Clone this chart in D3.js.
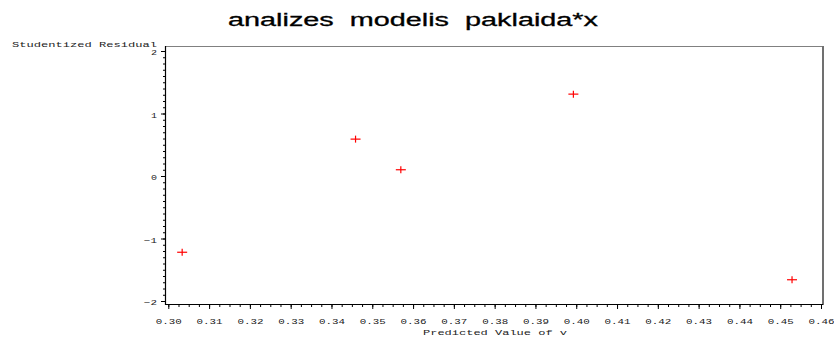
<!DOCTYPE html>
<html>
<head>
<meta charset="utf-8">
<script src="https://cdn.jsdelivr.net/npm/d3@7/dist/d3.min.js"></script>
<style>
  html, body { margin: 0; padding: 0; background: #fff; }
  svg { display: block; }
</style>
</head>
<body>
<svg id="chart" width="834" height="337"></svg>
<script>
// Studentized residuals against predicted values
const predicted = [0.3034, 0.3459, 0.3570, 0.3993, 0.4529];
const residual  = [-1.22, 0.59, 0.10, 1.31, -1.66];

const xTickValues = [0.30, 0.31, 0.32, 0.33, 0.34, 0.35, 0.36, 0.37, 0.38, 0.39, 0.40, 0.41, 0.42, 0.43, 0.44, 0.45, 0.46];
const yTickValues = [-2, -1, 0, 1, 2];

const titleText = "analizes  modelis  paklaida*x";
const yLabelText = "Studentized Residual";
const xLabelText = "Predicted Value of v";

const svg = d3.select("#chart");

const frame = { left: 166, right: 823, top: 46, bottom: 304 };

const x = d3.scaleLinear().domain([0.30, 0.46]).range([168.3, 821]);
const y = d3.scaleLinear().domain([-2, 2]).range([301, 51]);

const monoFont = "'Liberation Mono', 'DejaVu Sans Mono', monospace";

// Title
svg.append("text")
  .attr("x", 413).attr("y", 26)
  .attr("text-anchor", "middle")
  .attr("font-family", "'Liberation Sans', Arial, sans-serif")
  .attr("font-size", 18)
  .attr("fill", "#000")
  .attr("stroke", "#000").attr("stroke-width", 0.3)
  .attr("textLength", 370)
  .attr("lengthAdjust", "spacingAndGlyphs")
  .style("white-space", "pre")
  .text(titleText);

// Frame: top and right edges
svg.append("line")
  .attr("x1", frame.left).attr("x2", frame.right)
  .attr("y1", frame.top + 0.5).attr("y2", frame.top + 0.5)
  .attr("stroke", "#808080").attr("stroke-width", 1);
svg.append("line")
  .attr("x1", frame.right).attr("x2", frame.right)
  .attr("y1", frame.top).attr("y2", frame.bottom + 1)
  .attr("stroke", "#707070").attr("stroke-width", 2);

// Minor ticks
const xMinor = d3.range(0, 65).map(i => 0.30 + i * 0.0025);
const yMinor = d3.range(0, 41).map(i => -2 + i * 0.1);

svg.append("g")
  .attr("transform", `translate(0,${frame.bottom})`)
  .call(d3.axisBottom(x).tickValues(xMinor).tickSize(3).tickSizeOuter(0).tickFormat(""))
  .call(g => g.select(".domain").remove())
  .call(g => g.selectAll("line").attr("stroke", "#000"));

svg.append("g")
  .attr("transform", `translate(${frame.left},0)`)
  .call(d3.axisLeft(y).tickValues(yMinor).tickSize(3).tickSizeOuter(0).tickFormat(""))
  .call(g => g.select(".domain").remove())
  .call(g => g.selectAll("line").attr("stroke", "#000"));

// Major ticks and labels
const xAxis = svg.append("g")
  .attr("transform", `translate(0,${frame.bottom})`)
  .call(d3.axisBottom(x).tickValues(xTickValues).tickSize(5).tickSizeOuter(0).tickPadding(9)
    .tickFormat(d3.format(".2f")))
  .call(g => g.select(".domain").remove())
  .call(g => g.selectAll("line").attr("stroke", "#000"));
xAxis.selectAll("text")
  .attr("font-family", monoFont)
  .attr("font-size", 8)
  .attr("fill", "#222")
  .attr("textLength", 26)
  .attr("lengthAdjust", "spacingAndGlyphs");

const yAxis = svg.append("g")
  .attr("transform", `translate(${frame.left},0)`)
  .call(d3.axisLeft(y).tickValues(yTickValues).tickSize(5).tickSizeOuter(0).tickPadding(4)
    .tickFormat(d => d < 0 ? "\u2212" + Math.abs(d) : String(d)))
  .call(g => g.select(".domain").remove())
  .call(g => g.selectAll("line").attr("stroke", "#000"));
yAxis.selectAll("text")
  .attr("font-family", monoFont)
  .attr("font-size", 8)
  .attr("fill", "#222")
  .attr("dy", "0.45em")
  .each(function(d) {
    d3.select(this)
      .attr("textLength", d < 0 ? 13 : 6)
      .attr("lengthAdjust", "spacingAndGlyphs");
  });

// Axis lines (left and bottom)
svg.append("line")
  .attr("x1", frame.left - 0.5).attr("x2", frame.left - 0.5)
  .attr("y1", frame.top).attr("y2", frame.bottom + 1)
  .attr("stroke", "#000").attr("stroke-width", 1.2);
svg.append("line")
  .attr("x1", frame.left - 1).attr("x2", frame.right)
  .attr("y1", frame.bottom + 0.5).attr("y2", frame.bottom + 0.5)
  .attr("stroke", "#000").attr("stroke-width", 1.2);

// Axis titles
svg.append("text")
  .attr("x", 12).attr("y", 47)
  .attr("font-family", monoFont)
  .attr("font-size", 8)
  .attr("fill", "#222")
  .attr("textLength", 145)
  .attr("lengthAdjust", "spacingAndGlyphs")
  .text(yLabelText);

svg.append("text")
  .attr("x", 495).attr("y", 335)
  .attr("text-anchor", "middle")
  .attr("font-family", monoFont)
  .attr("font-size", 8)
  .attr("fill", "#222")
  .attr("textLength", 144)
  .attr("lengthAdjust", "spacingAndGlyphs")
  .text(xLabelText);

// Points drawn as plus markers
const pts = svg.append("g").attr("class", "points")
  .selectAll("g")
  .data(predicted.map((p, i) => ({ p, r: residual[i] })))
  .join("g")
  .attr("transform", d => `translate(${x(d.p)},${y(d.r)})`);

pts.append("line")
  .attr("x1", -5).attr("x2", 5).attr("y1", 0).attr("y2", 0)
  .attr("stroke", "#ff0000").attr("stroke-width", 1.2);
pts.append("line")
  .attr("x1", 0).attr("x2", 0).attr("y1", -3.5).attr("y2", 3.5)
  .attr("stroke", "#ff0000").attr("stroke-width", 1.2);
</script>
</body>
</html>
